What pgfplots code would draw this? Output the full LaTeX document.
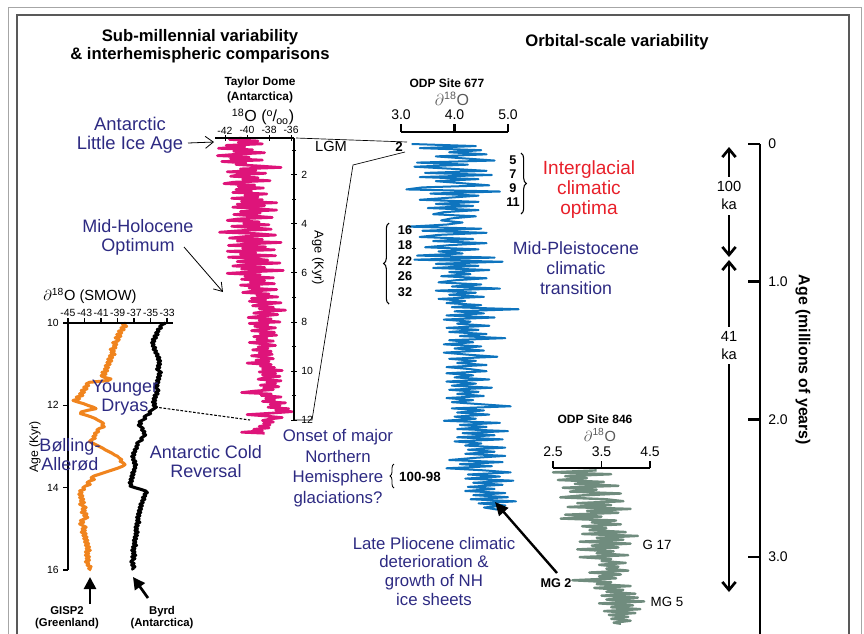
\documentclass[border=0pt]{standalone}
\usepackage{pgfplots}
\pgfplotsset{compat=1.18}
\usepackage{fontspec}
\setmainfont{Liberation Sans}
\usetikzlibrary{arrows.meta,decorations.pathreplacing}
\definecolor{tdmag}{RGB}{222,20,122}
\definecolor{gisp}{RGB}{240,132,30}
\definecolor{odpblue}{RGB}{14,116,190}
\definecolor{odpgray}{RGB}{112,140,126}
\definecolor{annblue}{RGB}{45,42,130}
\definecolor{annred}{RGB}{232,32,42}
\newcommand\fs[2]{\fontsize{#1}{#2}\selectfont}
\pgfplotsset{myax/.style={scale only axis, clip=false, anchor=north west,
  /pgf/number format/assume math mode=true, axis line style={draw=none}}}
\begin{document}
\begin{tikzpicture}
\useasboundingbox (0,0) rectangle (648pt,-474.75pt);
% ---------------- Taylor Dome ----------------
\begin{axis}[myax, at={(161.25pt,-103.5pt)}, width=59.25pt, height=211.5pt,
  xmin=-42.91, xmax=-35.73, ymin=-12, ymax=-0.5,
  xtick pos=right, xticklabel pos=right, ytick pos=right, yticklabel pos=right,
  tick align=center, major tick length=4pt, minor tick length=3pt,
  tick style={line width=0.6pt,black},
  xtick={-42,-40,-38,-36}, xticklabels={-42,-40,-38,-36},
  ytick={-12,-10,-8,-6,-4,-2}, yticklabels={12,10,8,6,4,2},
  minor ytick={-11,-9,-7,-5,-3,-1},
  tick label style={font=\fs{7.8}{8}},
  xticklabel style={inner sep=0.8pt},
]
\addplot[tdmag, line width=2pt, line join=round] table[row sep=\\, y expr=-\thisrow{a}] {
v a\\
-40.5 0.50\\ -41.6 0.56\\ -39.0 0.62\\ -40.8 0.68\\ -38.6 0.74\\ -41.9 0.80\\ -40.2 0.86\\ -42.6 0.92\\ -39.5 0.98\\ -41.2 1.04\\
-38.4 1.10\\ -40.9 1.16\\ -42.7 1.22\\ -39.8 1.28\\ -41.5 1.34\\ -38.6 1.40\\ -42.3 1.46\\ -40.1 1.52\\ -41.0 1.58\\ -38.9 1.64\\
-36.9 1.70\\ -40.6 1.76\\ -39.2 1.82\\ -41.8 1.88\\ -38.3 1.94\\ -40.7 2.00\\ -41.5 2.06\\ -39.0 2.12\\ -40.4 2.18\\ -37.9 2.24\\
-41.2 2.30\\ -42.1 2.36\\ -39.3 2.42\\ -40.8 2.48\\ -38.5 2.54\\ -41.0 2.60\\ -39.6 2.66\\ -41.3 2.72\\ -38.2 2.78\\ -40.2 2.84\\
-39.0 2.90\\ -41.4 2.96\\ -38.6 3.02\\ -40.5 3.08\\ -37.3 3.14\\ -40.9 3.20\\ -38.4 3.26\\ -41.3 3.32\\ -39.2 3.38\\ -37.3 3.44\\
-40.6 3.50\\ -38.8 3.56\\ -41.2 3.62\\ -39.4 3.68\\ -37.7 3.74\\ -40.8 3.80\\ -41.8 3.86\\ -38.9 3.92\\ -40.3 3.98\\ -38.0 4.04\\
-41.4 4.10\\ -39.5 4.16\\ -37.8 4.22\\ -40.7 4.28\\ -42.5 4.34\\ -39.1 4.40\\ -37.4 4.46\\ -40.2 4.52\\ -41.6 4.58\\ -38.6 4.64\\
-40.9 4.70\\ -36.9 4.76\\ -39.8 4.82\\ -41.7 4.88\\ -38.3 4.94\\ -40.4 5.00\\ -37.5 5.06\\ -41.8 5.12\\ -39.2 5.18\\ -40.6 5.24\\
-37.4 5.30\\ -41.7 5.36\\ -39.5 5.42\\ -38.1 5.48\\ -40.9 5.54\\ -37.0 5.60\\ -39.9 5.66\\ -41.3 5.72\\ -38.4 5.78\\ -40.5 5.84\\
-36.7 5.90\\ -39.6 5.96\\ -41.8 6.02\\ -38.8 6.08\\ -40.2 6.14\\ -37.6 6.20\\ -40.5 6.26\\ -38.4 6.32\\ -39.7 6.38\\ -37.5 6.44\\
-40.6 6.50\\ -38.9 6.56\\ -39.8 6.62\\ -37.3 6.68\\ -39.4 6.74\\ -40.4 6.80\\ -38.0 6.86\\ -39.1 6.92\\ -37.2 6.98\\ -39.6 7.04\\
-38.3 7.10\\ -39.8 7.16\\ -36.9 7.22\\ -38.7 7.28\\ -39.5 7.34\\ -37.6 7.40\\ -38.9 7.46\\ -36.5 7.52\\ -38.4 7.58\\ -39.4 7.64\\
-37.2 7.70\\ -38.6 7.76\\ -39.9 7.82\\ -37.8 7.88\\ -38.9 7.94\\ -37.0 8.00\\ -39.8 8.06\\ -38.1 8.12\\ -39.3 8.18\\ -37.4 8.24\\
-38.7 8.30\\ -39.6 8.36\\ -37.5 8.42\\ -38.8 8.48\\ -37.3 8.54\\ -39.4 8.60\\ -38.2 8.66\\ -39.1 8.72\\ -37.6 8.78\\ -39.8 8.84\\
-38.4 8.90\\ -37.4 8.96\\ -39.0 9.02\\ -38.1 9.08\\ -39.5 9.14\\ -37.8 9.20\\ -38.9 9.26\\ -37.7 9.32\\ -39.6 9.38\\ -38.3 9.44\\
-37.6 9.50\\ -39.2 9.56\\ -38.0 9.62\\ -40.0 9.68\\ -37.8 9.74\\ -38.8 9.80\\ -37.5 9.86\\ -38.6 9.92\\ -36.8 9.98\\ -38.9 10.04\\
-37.4 10.10\\ -38.6 10.16\\ -37.0 10.22\\ -38.4 10.28\\ -39.0 10.34\\ -36.9 10.40\\ -38.2 10.46\\ -37.4 10.52\\ -38.8 10.58\\ -37.1 10.64\\
-38.5 10.70\\ -37.6 10.76\\ -39.3 10.82\\ -40.5 10.88\\ -37.8 10.94\\ -38.7 11.00\\ -36.9 11.06\\ -38.3 11.12\\ -37.5 11.18\\ -38.6 11.24\\
-36.5 11.30\\ -37.9 11.36\\ -37.0 11.42\\ -38.1 11.48\\ -36.2 11.54\\ -37.4 11.60\\ -35.9 11.66\\ -37.8 11.72\\ -40.0 11.78\\ -38.2 11.84\\
-36.8 11.90\\ -37.9 11.96\\ -38.6 12.02\\ -37.6 12.08\\ -38.5 12.14\\ -37.9 12.20\\ -38.9 12.26\\ -38.0 12.32\\ -39.4 12.38\\ -38.6 12.44\\
-40.5 12.50\\ -38.4 12.54\\
};
\draw[line width=0.8pt] (rel axis cs:0,1) -- (rel axis cs:1,1);
\draw[line width=0.8pt] (rel axis cs:1,0) -- (rel axis cs:1,1);
\end{axis}
% ---------------- GISP2 & Byrd ----------------
\begin{axis}[myax, at={(51pt,-242.25pt)}, width=78.75pt, height=185.25pt,
  xmin=-45, xmax=-32.3, ymin=-16, ymax=-10,
  xtick pos=right, xticklabel pos=right, ytick pos=left, yticklabel pos=left,
  tick align=outside, major tick length=3.5pt, tick style={line width=1.2pt,black},
  xtick={-45,-43,-41,-39,-37,-35,-33}, xticklabels={-45,-43,-41,-39,-37,-35,-33},
  ytick={-16,-14,-12,-10}, yticklabels={16,14,12,10},
  tick label style={font=\fs{7.8}{8}},
  xticklabel style={inner sep=1pt},
]
\addplot[gisp, line width=2.3pt, line join=round] table[row sep=\\, y expr=-\thisrow{a}] {
v a\\
-38.0 10.00\\ -38.4 10.04\\ -37.9 10.08\\ -38.6 10.12\\ -38.2 10.16\\ -38.9 10.20\\ -38.5 10.24\\ -39.1 10.28\\ -38.6 10.32\\ -39.3 10.36\\
-38.8 10.40\\ -39.0 10.44\\ -39.6 10.48\\ -39.1 10.52\\ -39.5 10.56\\ -39.2 10.60\\ -39.9 10.64\\ -39.4 10.68\\ -39.8 10.72\\ -39.3 10.76\\
-40.0 10.80\\ -39.6 10.84\\ -40.2 10.88\\ -39.7 10.92\\ -40.3 10.96\\ -39.9 11.00\\ -40.5 11.04\\ -40.1 11.08\\ -40.6 11.12\\ -40.2 11.16\\
-40.9 11.20\\ -40.4 11.24\\ -41.0 11.28\\ -40.6 11.32\\ -39.8 11.36\\ -40.2 11.40\\ -42.4 11.44\\ -42.8 11.48\\ -42.5 11.52\\ -43.1 11.56\\
-42.7 11.60\\ -43.4 11.64\\ -43.0 11.68\\ -43.6 11.72\\ -43.2 11.76\\ -44.0 11.80\\ -43.6 11.84\\ -44.4 11.88\\ -43.8 11.92\\ -43.1 11.96\\
-42.6 12.00\\ -42.0 12.04\\ -41.6 12.08\\ -42.6 12.12\\ -43.4 12.16\\ -43.5 12.20\\ -42.8 12.24\\ -42.2 12.28\\ -41.7 12.32\\ -41.4 12.36\\
-41.0 12.40\\ -40.7 12.44\\ -40.9 12.48\\ -40.6 12.52\\ -41.2 12.56\\ -41.5 12.60\\ -41.3 12.64\\ -41.8 12.68\\ -41.6 12.72\\ -42.0 12.76\\
-41.7 12.80\\ -42.2 12.84\\ -42.4 12.88\\ -42.0 12.92\\ -41.6 12.96\\ -41.2 13.00\\ -40.8 13.04\\ -40.5 13.08\\ -40.1 13.12\\ -39.7 13.16\\
-39.4 13.20\\ -39.0 13.24\\ -38.8 13.28\\ -38.5 13.32\\ -38.7 13.36\\ -38.3 13.40\\ -38.1 13.44\\ -38.4 13.48\\ -38.9 13.52\\ -39.5 13.56\\
-40.1 13.60\\ -40.7 13.64\\ -41.3 13.68\\ -41.9 13.72\\ -42.2 13.76\\ -41.8 13.80\\ -42.4 13.84\\ -42.7 13.88\\ -42.3 13.92\\ -42.9 13.96\\
-43.2 14.00\\ -43.0 14.04\\ -43.6 14.08\\ -43.3 14.12\\ -43.7 14.16\\ -43.2 14.20\\ -43.6 14.24\\ -43.1 14.28\\ -43.5 14.32\\ -43.0 14.36\\
-43.6 14.40\\ -43.2 14.44\\ -42.8 14.48\\ -43.3 14.52\\ -42.9 14.56\\ -43.4 14.60\\ -42.7 14.64\\ -43.1 14.68\\ -42.6 14.72\\ -43.0 14.76\\
-43.5 14.80\\ -43.1 14.84\\ -43.6 14.88\\ -43.2 14.92\\ -42.8 14.96\\ -43.3 15.00\\ -42.9 15.04\\ -43.4 15.08\\ -42.8 15.12\\ -43.2 15.16\\
-42.7 15.20\\ -43.1 15.24\\ -42.6 15.28\\ -43.0 15.32\\ -42.5 15.36\\ -42.9 15.40\\ -42.4 15.44\\ -42.8 15.48\\ -42.3 15.52\\ -42.9 15.56\\
-42.5 15.60\\ -42.9 15.64\\ -42.4 15.68\\ -42.8 15.72\\ -42.4 15.76\\ -42.9 15.80\\ -42.5 15.84\\ -42.7 15.88\\ -42.2 15.92\\ -42.5 15.96\\
-42.2 16.00\\
};
\addplot[black, line width=2.3pt, line join=round] table[row sep=\\, y expr=-\thisrow{a}] {
v a\\
-33.2 10.00\\ -33.6 10.04\\ -33.9 10.08\\ -33.7 10.12\\ -34.2 10.16\\ -34.0 10.20\\ -34.4 10.24\\ -34.1 10.28\\ -34.6 10.32\\ -34.3 10.36\\
-34.8 10.40\\ -34.5 10.44\\ -34.9 10.48\\ -34.6 10.52\\ -34.8 10.56\\ -34.4 10.60\\ -34.7 10.64\\ -34.3 10.68\\ -34.5 10.72\\ -34.1 10.76\\
-34.3 10.80\\ -33.9 10.84\\ -34.2 10.88\\ -33.8 10.92\\ -34.1 10.96\\ -33.8 11.00\\ -34.2 11.04\\ -33.9 11.08\\ -34.3 11.12\\ -34.0 11.16\\
-33.7 11.20\\ -34.1 11.24\\ -33.8 11.28\\ -34.2 11.32\\ -33.9 11.36\\ -34.3 11.40\\ -34.0 11.44\\ -34.4 11.48\\ -34.1 11.52\\ -34.5 11.56\\
-34.2 11.60\\ -34.0 11.64\\ -34.4 11.68\\ -34.1 11.72\\ -34.6 11.76\\ -34.3 11.80\\ -34.7 11.84\\ -34.4 11.88\\ -34.8 11.92\\ -34.4 11.96\\
-34.7 12.00\\ -34.3 12.04\\ -34.6 12.08\\ -34.9 12.12\\ -35.2 12.16\\ -35.0 12.20\\ -35.5 12.24\\ -35.8 12.28\\ -35.6 12.32\\ -36.0 12.36\\
-36.4 12.40\\ -36.1 12.44\\ -36.5 12.48\\ -36.2 12.52\\ -35.9 12.56\\ -36.1 12.60\\ -35.7 12.64\\ -35.9 12.68\\ -35.6 12.72\\ -35.9 12.76\\
-36.2 12.80\\ -36.0 12.84\\ -36.4 12.88\\ -36.7 12.92\\ -36.5 12.96\\ -36.8 13.00\\ -36.6 13.04\\ -37.0 13.08\\ -36.8 13.12\\ -37.2 13.16\\
-36.9 13.20\\ -37.3 13.24\\ -37.0 13.28\\ -37.2 13.32\\ -36.8 13.36\\ -37.1 13.40\\ -36.7 13.44\\ -37.0 13.48\\ -36.8 13.52\\ -37.1 13.56\\
-36.9 13.60\\ -37.3 13.64\\ -37.0 13.68\\ -37.4 13.72\\ -37.1 13.76\\ -37.5 13.80\\ -37.2 13.84\\ -37.6 13.88\\ -37.3 13.92\\ -37.5 13.96\\
-36.9 14.00\\ -36.2 14.04\\ -35.6 14.08\\ -35.4 14.12\\ -35.8 14.16\\ -35.6 14.20\\ -36.0 14.24\\ -35.7 14.28\\ -36.1 14.32\\ -35.9 14.36\\
-36.3 14.40\\ -36.0 14.44\\ -36.4 14.48\\ -36.1 14.52\\ -36.5 14.56\\ -36.2 14.60\\ -36.6 14.64\\ -36.3 14.68\\ -36.7 14.72\\ -36.4 14.76\\
-36.7 14.80\\ -36.3 14.84\\ -36.8 14.88\\ -36.5 14.92\\ -36.9 14.96\\ -36.6 15.00\\ -36.9 15.04\\ -36.5 15.08\\ -36.9 15.12\\ -36.6 15.16\\
-37.0 15.20\\ -36.7 15.24\\ -37.1 15.28\\ -36.8 15.32\\ -37.1 15.36\\ -36.7 15.40\\ -37.2 15.44\\ -36.9 15.48\\ -37.3 15.52\\ -36.9 15.56\\
-37.2 15.60\\ -36.8 15.64\\ -37.3 15.68\\ -36.9 15.72\\ -37.2 15.76\\ -37.4 15.80\\ -37.0 15.84\\ -37.3 15.88\\ -36.9 15.92\\ -37.2 15.96\\
-37.1 16.00\\
};
\draw[line width=1.8pt] (rel axis cs:0,1) -- (rel axis cs:1,1);
\draw[line width=1.8pt] (rel axis cs:0,0) -- (rel axis cs:0,1);
\end{axis}
% ---------------- ODP 677 ----------------
\begin{axis}[myax, at={(300.75pt,-99pt)}, width=80.25pt, height=283.7pt,
  xmin=3, xmax=5, ymin=-2.66, ymax=0.08715,
  xtick pos=right, xticklabel pos=right, ytick=\empty,
  tick align=outside, major tick length=6pt, tick style={line width=1.6pt,black},
  xtick={3,4,5}, xticklabels={3.0,4.0,5.0}, tick label style={font=\fs{10.5}{11}},
]
\addplot[odpblue, line width=1.5pt, line join=round] table[row sep=\\, y expr=-\thisrow{a}] {
v a\\
3.20 0.000\\ 4.40 0.015\\ 3.35 0.030\\ 4.50 0.045\\ 3.90 0.060\\ 4.60 0.075\\ 3.65 0.090\\ 4.20 0.105\\ 4.75 0.120\\ 3.30 0.135\\
4.25 0.150\\ 3.25 0.165\\ 3.95 0.180\\ 4.60 0.195\\ 3.45 0.210\\ 4.70 0.225\\ 3.35 0.240\\ 4.45 0.255\\ 3.65 0.270\\ 4.15 0.285\\
4.65 0.300\\ 3.40 0.315\\ 3.10 0.330\\ 4.85 0.345\\ 3.55 0.360\\ 4.45 0.375\\ 3.90 0.390\\ 3.35 0.405\\ 4.45 0.420\\ 3.65 0.435\\
4.35 0.450\\ 3.50 0.465\\ 4.45 0.480\\ 3.80 0.495\\ 3.60 0.510\\ 4.40 0.525\\ 3.95 0.540\\ 3.75 0.555\\ 4.15 0.570\\ 3.85 0.585\\
3.15 0.600\\ 4.50 0.615\\ 3.40 0.630\\ 4.60 0.645\\ 3.70 0.660\\ 3.35 0.675\\ 4.35 0.690\\ 3.60 0.705\\ 4.60 0.720\\ 3.90 0.735\\
3.45 0.750\\ 4.45 0.765\\ 3.70 0.780\\ 4.15 0.795\\ 3.30 0.810\\ 4.75 0.825\\ 3.25 0.840\\ 4.90 0.855\\ 3.65 0.870\\ 4.45 0.885\\
3.60 0.900\\ 4.65 0.915\\ 3.90 0.930\\ 4.30 0.945\\ 3.75 0.960\\ 4.60 0.975\\ 4.00 0.990\\ 3.70 1.005\\ 4.50 1.020\\ 3.95 1.035\\
4.85 1.050\\ 3.65 1.065\\ 4.40 1.080\\ 3.90 1.095\\ 4.55 1.110\\ 3.70 1.125\\ 4.20 1.140\\ 3.85 1.155\\ 4.50 1.170\\ 3.95 1.185\\
5.20 1.200\\ 4.00 1.215\\ 4.55 1.230\\ 3.85 1.245\\ 4.75 1.260\\ 3.80 1.275\\ 4.30 1.290\\ 4.05 1.305\\ 4.65 1.320\\ 3.85 1.335\\
4.45 1.350\\ 3.90 1.365\\ 4.60 1.380\\ 4.10 1.395\\ 4.95 1.410\\ 3.90 1.425\\ 4.35 1.440\\ 3.80 1.455\\ 4.50 1.470\\ 4.00 1.485\\
4.55 1.500\\ 3.80 1.515\\ 4.25 1.530\\ 4.80 1.545\\ 3.90 1.560\\ 4.40 1.575\\ 4.05 1.590\\ 4.60 1.605\\ 3.85 1.620\\ 4.30 1.635\\
4.60 1.650\\ 3.85 1.665\\ 4.35 1.680\\ 4.00 1.695\\ 4.65 1.710\\ 3.85 1.725\\ 4.40 1.740\\ 3.95 1.755\\ 4.70 1.770\\ 3.90 1.785\\
4.45 1.800\\ 4.05 1.815\\ 4.55 1.830\\ 3.85 1.845\\ 4.35 1.860\\ 3.95 1.875\\ 4.50 1.890\\ 5.05 1.905\\ 3.95 1.920\\ 4.55 1.935\\
4.05 1.950\\ 4.65 1.965\\ 4.00 1.980\\ 4.40 1.995\\ 3.80 2.010\\ 4.85 2.025\\ 4.10 2.040\\ 4.60 2.055\\ 4.05 2.070\\ 5.00 2.085\\
4.15 2.100\\ 4.75 2.115\\ 4.05 2.130\\ 4.90 2.145\\ 4.00 2.160\\ 4.50 2.175\\ 4.20 2.190\\ 4.95 2.205\\ 4.25 2.220\\ 4.75 2.235\\
4.20 2.250\\ 4.95 2.265\\ 4.35 2.280\\ 3.90 2.295\\ 4.90 2.310\\ 4.10 2.325\\ 4.70 2.340\\ 3.85 2.355\\ 4.55 2.370\\ 5.05 2.385\\
4.25 2.400\\ 4.85 2.415\\ 4.20 2.430\\ 5.10 2.445\\ 4.35 2.460\\ 4.90 2.475\\ 4.25 2.490\\ 4.75 2.505\\ 4.20 2.520\\ 4.95 2.535\\
4.35 2.550\\ 5.00 2.565\\ 4.30 2.580\\ 5.15 2.595\\ 4.45 2.610\\ 4.95 2.625\\ 4.55 2.640\\ 4.80 2.655\\
};
\draw[line width=2pt] (rel axis cs:0,1) -- (rel axis cs:1,1);
\end{axis}
% ---------------- ODP 846 ----------------
\begin{axis}[myax, at={(414.75pt,-351pt)}, width=72.75pt, height=118.47pt,
  xmin=2.5, xmax=4.5, ymin=-3.50, ymax=-2.3529,
  xtick pos=right, xticklabel pos=right, ytick=\empty,
  tick align=outside, major tick length=5pt, tick style={line width=1pt,black},
  xtick={2.5,3.5,4.5}, xticklabels={2.5,3.5,4.5}, tick label style={font=\fs{10.5}{11}},
]
\addplot[odpgray, line width=1.8pt, line join=round] table[row sep=\\, y expr=-\thisrow{a}] {
v a\\
3.40 2.370\\ 2.50 2.384\\ 3.70 2.398\\ 2.75 2.412\\ 3.20 2.426\\ 2.60 2.440\\ 3.55 2.454\\ 2.95 2.468\\ 3.85 2.482\\ 2.70 2.496\\
3.40 2.510\\ 2.85 2.524\\ 3.90 2.538\\ 3.10 2.552\\ 2.65 2.566\\ 3.60 2.580\\ 3.95 2.594\\ 3.00 2.608\\ 3.70 2.622\\ 2.80 2.636\\
4.10 2.650\\ 3.20 2.664\\ 3.85 2.678\\ 2.75 2.692\\ 3.50 2.706\\ 2.66 2.720\\ 3.80 2.734\\ 3.30 2.748\\ 3.90 2.762\\ 3.10 2.776\\
3.60 2.790\\ 3.25 2.804\\ 4.00 2.818\\ 3.10 2.832\\ 4.25 2.846\\ 3.40 2.860\\ 3.95 2.874\\ 3.05 2.888\\ 4.10 2.902\\ 3.30 2.916\\
3.85 2.930\\ 3.00 2.944\\ 3.75 2.958\\ 3.40 2.972\\ 4.05 2.986\\ 3.05 3.000\\ 3.70 3.014\\ 3.50 3.028\\ 4.00 3.042\\ 3.45 3.056\\
3.85 3.070\\ 3.60 3.084\\ 4.05 3.098\\ 3.25 3.112\\ 3.90 3.126\\ 3.45 3.140\\ 3.80 3.154\\ 2.90 3.168\\ 3.70 3.182\\ 3.40 3.196\\
4.10 3.210\\ 3.35 3.224\\ 3.95 3.238\\ 3.60 3.252\\ 4.20 3.266\\ 3.50 3.280\\ 4.25 3.294\\ 3.60 3.308\\ 4.38 3.322\\ 3.45 3.336\\
4.15 3.350\\ 3.70 3.364\\ 4.30 3.378\\ 3.55 3.392\\ 4.20 3.406\\ 3.65 3.420\\ 4.05 3.434\\ 3.70 3.448\\ 4.10 3.462\\ 3.75 3.476\\
3.90 3.484\\
};
\draw[line width=1.2pt] (rel axis cs:0,1) -- (rel axis cs:1,1);
\end{axis}
% ---------------- Age (millions of years) scale ----------------
\begin{axis}[myax, at={(555pt,-108pt)}, width=15pt, height=366.6pt,
  xmin=0, xmax=1, ymin=-3.55, ymax=0,
  ytick pos=right, yticklabel pos=right, xtick=\empty,
  tick align=inside, major tick length=9pt, tick style={line width=2pt,black},
  ytick={-3,-2,-1,0}, yticklabels={3.0,2.0,1.0,0},
  tick label style={font=\fs{10.5}{11}},
  yticklabel style={anchor=west, inner sep=0pt, xshift=6pt},
]
\draw[line width=2pt] (rel axis cs:1,0) -- (rel axis cs:1,1);
\end{axis}
% ---------------- annotations ----------------
\begin{scope}[x=0.75pt, y=-0.75pt]
\draw[line width=0.6pt, black!35] (8,645) -- (8,7) -- (861,7) -- (861,645);
\draw[line width=1.3pt, black!65] (17,645) -- (17,15) -- (849,15) -- (849,645);
\node[font=\bfseries\fs{12.5}{13.5}, align=center] at (200,46) {Sub-millennial variability\\\& interhemispheric comparisons};
\node[font=\bfseries\fs{12.5}{13.5}] at (617,42) {Orbital-scale variability};
% Taylor Dome labels
\node[font=\bfseries\fs{8.9}{11.2}, align=center] at (260,89.5) {Taylor Dome\\(Antarctica)};
\node[font=\fs{12}{13}] at (263,117) {\textsuperscript{18}O (\textsuperscript{o}\kern-0.5pt/\kern-0.5pt\textsubscript{oo})};
\node[font=\fs{9.6}{10}, rotate=-90] at (318,258) {Age (Kyr)};
% GISP2 / Byrd labels
\node[font=\fs{11}{12}] at (90,296) {$\partial$\textsuperscript{18}O (SMOW)};
\node[font=\fs{9.2}{10}, rotate=90] at (35,447) {Age (Kyr)};
\node[font=\bfseries\fs{8.5}{8.6}, align=center] at (67,617.5) {GISP2\\(Greenland)};
\node[font=\bfseries\fs{8.5}{8.6}, align=center] at (162,617.5) {Byrd\\(Antarctica)};
\draw[line width=2pt, -{Triangle[length=9pt,width=9pt]}] (90,604) -- (90,577);
\draw[line width=2pt, -{Triangle[length=9pt,width=9pt]}] (148,598) -- (133,577);
% blue annotations left
\node[annblue, font=\fs{13.8}{14.3}, align=center] at (130,135.5) {Antarctic\\Little Ice Age};
\draw[line width=0.6pt, -{Straight Barb[length=6pt,width=9pt]}] (188,143) -- (214,142);
\node[annblue, font=\fs{13.5}{14.3}, align=center] at (138,237.5) {Mid-Holocene\\Optimum};
\draw[line width=0.6pt, -{Straight Barb[length=6pt,width=8pt]}] (184,247) -- (223,292);
\node[annblue, font=\fs{13.5}{14.3}, align=center] at (125,397.5) {Younger\\Dryas};
\node[annblue, font=\fs{13.5}{14.3}, align=center] at (70,454.5) {Bølling-\\Allerød};
\node[annblue, font=\fs{13.5}{14.3}, align=center] at (206,461.5) {Antarctic Cold\\Reversal};
\draw[line width=0.8pt, dash pattern=on 2pt off 1.2pt] (155,407) -- (250,420);
% connectors
\node[font=\fs{11}{12}] at (331,146) {LGM};
\draw[line width=0.5pt] (296,138) -- (407,142);
\draw[line width=0.5pt] (293,420) -- (312,420) -- (353,165) -- (405,152);
\node[font=\bfseries\fs{10}{11}] at (399,147) {2};
% ODP 677 labels
\node[font=\bfseries\fs{9}{10}] at (447,83) {ODP Site 677};
\node[black!65, font=\fs{12}{13}] at (452,99) {$\partial$\textsuperscript{18}O};
\node[font=\bfseries\fs{9.5}{10.5}, align=center] at (513,181) {5\\7\\9\\11};
\draw[decorate, decoration={brace, amplitude=4pt}, line width=0.8pt] (521,153) -- (521,214);
\node[font=\bfseries\fs{9.5}{11.6}, align=center] at (405,261) {16\\18\\22\\26\\32};
\draw[decorate, decoration={brace, amplitude=4pt}, line width=0.8pt] (389,304) -- (389,223);
\node[font=\bfseries\fs{10}{11}] at (420,477) {100-98};
\draw[decorate, decoration={brace, amplitude=3pt}, line width=0.6pt] (394,488) -- (394,464);
\node[annred, font=\fs{14.3}{15}, align=center] at (589,190) {Interglacial\\climatic\\optima};
\node[annblue, font=\fs{13.3}{15}, align=center] at (576,268) {Mid-Pleistocene\\climatic\\transition};
\node[annblue, font=\fs{12.6}{15.5}, align=center] at (338,468) {Onset of major\\Northern\\Hemisphere\\glaciations?};
\node[annblue, font=\fs{12.6}{14}, align=center] at (434,571) {Late Pliocene climatic\\deterioration \&\\growth of NH\\ice sheets};
\draw[line width=1.8pt, -{Triangle[length=10pt,width=9pt]}] (557,573) -- (495,502);
\node[font=\bfseries\fs{9.5}{10}] at (556,583) {MG 2};
% ODP 846 labels
\node[font=\bfseries\fs{9}{10}] at (595,419) {ODP Site 846};
\node[black!65, font=\fs{11}{12}] at (600,435) {$\partial$\textsuperscript{18}O};
\node[font=\fs{10}{11}] at (657,545) {G 17};
\node[font=\fs{10}{11}] at (667,602) {MG 5};
% age scale arrows and label
\node[font=\fs{11}{13.5}, align=center] at (729,195) {100\\ka};
\draw[line width=2pt, {Straight Barb[length=6pt,width=10pt]}-] (729,147) -- (729,177);
\draw[line width=2pt, -{Straight Barb[length=6pt,width=10pt]}] (729,215) -- (729,257);
\node[font=\fs{11}{13.5}, align=center] at (729,346) {41\\ka};
\draw[line width=2pt, {Straight Barb[length=6pt,width=10pt]}-] (729,260) -- (729,327);
\draw[line width=2pt, -{Straight Barb[length=6pt,width=10pt]}] (729,364) -- (729,592);
\node[font=\bfseries\fs{11.9}{13}, rotate=-90] at (803,360) {Age (millions of years)};
\draw[line width=2pt] (760,620) -- (760,645);
\end{scope}
\end{tikzpicture}
\end{document}
